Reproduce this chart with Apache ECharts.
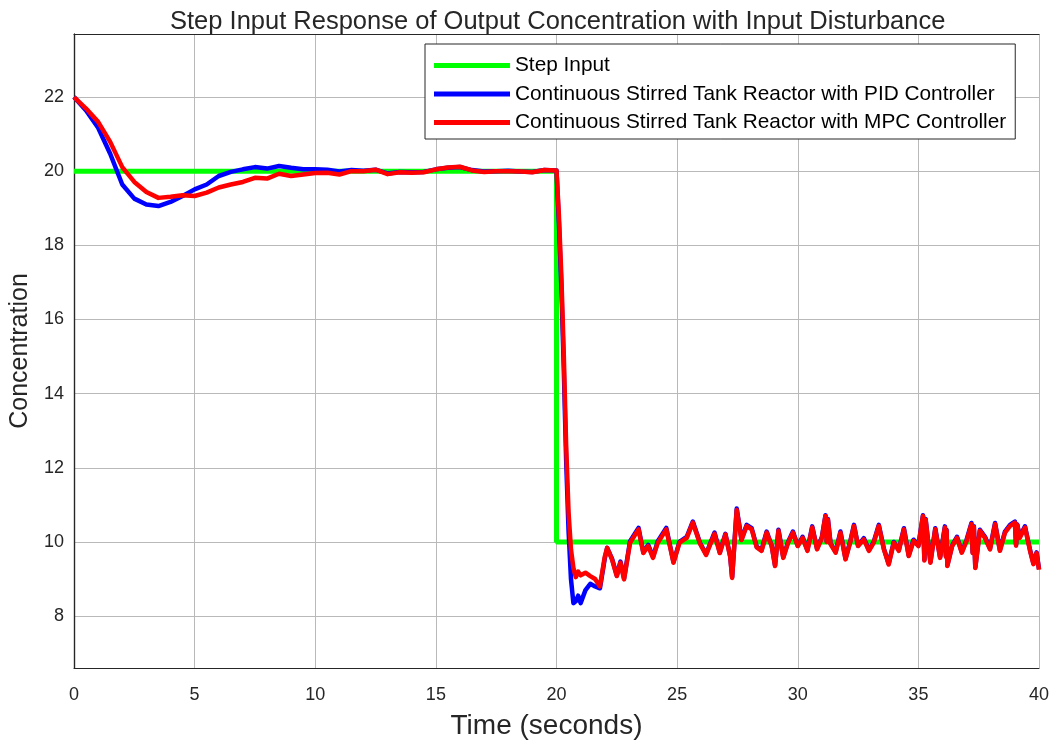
<!DOCTYPE html>
<html>
<head>
<meta charset="utf-8">
<script src="https://cdn.jsdelivr.net/npm/echarts@6/dist/echarts.min.js"></script>
<style>html,body{margin:0;padding:0;background:#fff;}#c{width:1057px;height:745px;}</style>
</head>
<body>
<div id="c"></div>
<script>
// ---- data ----
const titleText = "Step Input Response of Output Concentration with Input Disturbance";
const seriesNames = ["Step Input", "Continuous Stirred Tank Reactor with PID Controller", "Continuous Stirred Tank Reactor with MPC Controller"];
const xTicks = [0, 5, 10, 15, 20, 25, 30, 35, 40];
const yTicks = [8, 10, 12, 14, 16, 18, 20, 22];

const stepTimes = [0, 20, 20, 40];
const stepValues = [20, 20, 10, 10];

const times = [
  0,0.5,1,1.5,2,2.5,3,3.5,4,4.5,5,5.5,6,6.5,7,7.5,8,8.5,9,9.5,10,10.5,11,11.5,12,12.5,13,13.5,14,14.5,15,15.5,16,16.5,17,17.5,18,18.5,19,19.5,20,
  20.1,20.2,20.3,20.4,20.5,20.6,20.7,20.8,20.9,21.0,
  21.2,21.4,21.6,21.8,22.0,22.1,22.3,22.5,22.65,22.8,23.05,23.4,23.6,23.8,24.0,24.2,24.55,24.85,25.1,25.4,25.65,25.95,26.2,26.35,26.55,26.77,27.0,27.2,27.28,27.47,27.67,27.88,28.09,28.3,28.5,28.71,28.92,29.06,29.2,29.4,29.6,29.8,
  30.0,30.2,30.4,30.6,30.8,31.0,31.15,31.2,31.25,31.36,31.57,31.77,31.98,32.19,32.33,32.5,32.74,32.95,33.15,33.36,33.57,33.77,33.98,34.19,34.4,34.6,34.8,
  35.0,35.19,35.25,35.3,35.36,35.5,35.7,35.9,36.1,36.14,36.17,36.2,36.4,36.6,36.8,37.0,37.2,37.25,37.3,37.36,37.55,37.76,37.97,38.18,38.38,38.59,38.8,39.0,39.05,39.1,39.2,39.42,39.63,39.77,39.9,40.0
];

const pidValues = [
  22.0,21.64,21.17,20.47,19.64,19.26,19.1,19.06,19.17,19.33,19.51,19.64,19.87,19.98,20.05,20.11,20.07,20.14,20.09,20.05,20.05,20.04,19.99,20.03,20.01,20.04,19.94,19.98,19.97,19.98,20.05,20.09,20.11,20.03,19.99,20.0,20.01,19.99,19.98,20.03,20.02,
  18.6,16.9,14.7,12.2,10.3,9.0,8.35,8.4,8.55,8.35,
  8.7,8.87,8.8,8.75,9.55,9.84,9.55,9.1,9.47,9.02,10.02,10.38,9.72,9.92,9.6,10.02,10.38,9.46,10.0,10.14,10.55,9.97,9.67,9.92,10.25,9.72,10.22,9.62,9.05,10.9,10.07,10.46,10.37,9.87,9.78,10.28,9.9,9.37,10.33,9.59,10.0,10.28,
  9.9,10.14,9.78,10.42,9.82,10.13,10.72,10.02,10.62,9.96,9.73,10.28,9.55,10.05,10.46,9.9,10.1,9.78,10.0,10.46,9.82,9.41,10.0,9.78,10.37,9.64,10.06,
  9.9,10.72,9.52,10.62,10.63,9.46,10.37,9.59,10.42,9.62,10.32,9.37,9.9,10.14,9.73,10.06,10.51,9.72,10.42,9.32,10.33,10.14,9.82,10.51,9.78,10.28,10.46,10.55,9.92,10.47,10.14,10.42,9.78,9.42,9.72,9.27
];

const mpcValues = [
  22.0,21.69,21.33,20.79,20.11,19.71,19.44,19.28,19.31,19.35,19.33,19.42,19.56,19.64,19.71,19.82,19.8,19.93,19.87,19.91,19.95,19.96,19.91,20.0,20.0,20.04,19.92,19.97,19.96,19.97,20.05,20.1,20.12,20.02,19.98,20.0,20.0,19.99,19.97,20.03,20.02,
  18.8,17.2,15.1,12.6,10.8,9.8,9.3,9.05,9.2,9.1,
  9.17,9.08,9.0,8.8,9.6,9.84,9.53,9.08,9.44,8.99,9.98,10.34,9.7,9.89,9.57,9.98,10.34,9.44,9.98,10.11,10.52,9.95,9.65,9.9,10.22,9.7,10.2,9.6,9.03,10.86,10.05,10.43,10.34,9.85,9.76,10.25,9.89,9.35,10.3,9.57,9.98,10.25,
  9.89,10.11,9.76,10.39,9.8,10.11,10.7,10.0,10.6,9.94,9.71,10.25,9.53,10.03,10.43,9.89,10.07,9.76,9.98,10.43,9.8,9.39,9.98,9.76,10.34,9.62,10.03,
  9.89,10.7,9.5,10.6,10.61,9.44,10.34,9.57,10.39,9.6,10.3,9.35,9.89,10.11,9.71,10.03,10.48,9.7,10.4,9.3,10.3,10.11,9.8,10.48,9.76,10.25,10.43,10.52,9.9,10.45,10.11,10.39,9.76,9.4,9.7,9.25
];

// ---- chart ----
const FONT = "Liberation Sans, Arial, sans-serif";
const stepData = stepTimes.map((t, i) => [t, stepValues[i]]);
const pidData = times.map((t, i) => [t, pidValues[i]]);
const mpcData = times.map((t, i) => [t, mpcValues[i]]);

const chart = echarts.init(document.getElementById('c'), null, {renderer: 'canvas'});
const gridColor = '#b9b9b9';
const axisColor = '#262626';
const yMin = 6.6, yMax = 23.7;
const yLabelFmt = v => (yTicks.indexOf(Math.round(v * 1000) / 1000) >= 0 ? String(Math.round(v)) : '');

function yAxisCommon(pos) {
  return {
    type: 'value', min: yMin, max: yMax, splitNumber: 8,
    position: pos,
    axisLine: {show: true, lineStyle: {color: axisColor, width: 1.2}},
    axisTick: {show: false},
  };
}

chart.setOption({
  animation: false,
  backgroundColor: '#ffffff',
  title: {
    text: titleText,
    left: 165,
    top: 4,
    textStyle: {fontFamily: FONT, fontSize: 25.5, fontWeight: 'normal', color: '#262626'}
  },
  legend: {
    orient: 'vertical',
    left: 425,
    top: 44,
    width: 620,
    padding: [11, 9, 6, 9],
    itemGap: 7.5,
    itemWidth: 76,
    itemHeight: 5,
    icon: 'rect',
    backgroundColor: '#ffffff',
    borderColor: axisColor,
    borderWidth: 1,
    textStyle: {fontFamily: FONT, fontSize: 20.8, color: '#000', lineHeight: 20},
    data: seriesNames
  },
  grid: {left: 74, right: 18, top: 34, bottom: 76, containLabel: false},
  xAxis: [{
    type: 'value', min: 0, max: 40, interval: 5,
    position: 'bottom',
    name: 'Time (seconds)', nameLocation: 'middle', nameGap: 44,
    nameTextStyle: {fontFamily: FONT, fontSize: 28, color: axisColor, padding: [0, 20, 0, 0]},
    axisLine: {show: true, lineStyle: {color: axisColor, width: 1.2}},
    axisTick: {show: false},
    axisLabel: {fontFamily: FONT, fontSize: 18, color: axisColor, margin: 18, formatter: v => (xTicks.indexOf(v) >= 0 ? String(v) : '')},
    splitLine: {show: true, lineStyle: {color: gridColor, width: 1}}
  }, {
    type: 'value', min: 0, max: 40, interval: 5,
    position: 'top',
    axisLine: {show: true, lineStyle: {color: axisColor, width: 1.2}},
    axisTick: {show: false},
    axisLabel: {show: false},
    splitLine: {show: false}
  }],
  yAxis: [Object.assign(yAxisCommon('left'), {
    name: 'Concentration', nameLocation: 'middle', nameGap: 41,
    nameTextStyle: {fontFamily: FONT, fontSize: 25, color: axisColor},
    axisLabel: {fontFamily: FONT, fontSize: 18, color: axisColor, margin: 10, showMinLabel: true, showMaxLabel: true, formatter: yLabelFmt},
    splitLine: {show: true, lineStyle: {color: gridColor, width: 1}}
  }), Object.assign(yAxisCommon('right'), {
    axisLabel: {show: false},
    splitLine: {show: false}
  })],
  series: [{
    name: seriesNames[0], type: 'line', data: stepData, showSymbol: false, symbol: 'none',
    lineStyle: {color: '#00ff00', width: 5}, itemStyle: {color: '#00ff00'}, z: 2
  }, {
    name: seriesNames[1], type: 'line', data: pidData, showSymbol: false, symbol: 'none',
    lineStyle: {color: '#0000ff', width: 4.5, join: 'round'}, itemStyle: {color: '#0000ff'}, z: 3
  }, {
    name: seriesNames[2], type: 'line', data: mpcData, showSymbol: false, symbol: 'none',
    lineStyle: {color: '#ff0000', width: 4.5, join: 'round'}, itemStyle: {color: '#ff0000'}, z: 4
  }]
});
</script>
</body>
</html>
